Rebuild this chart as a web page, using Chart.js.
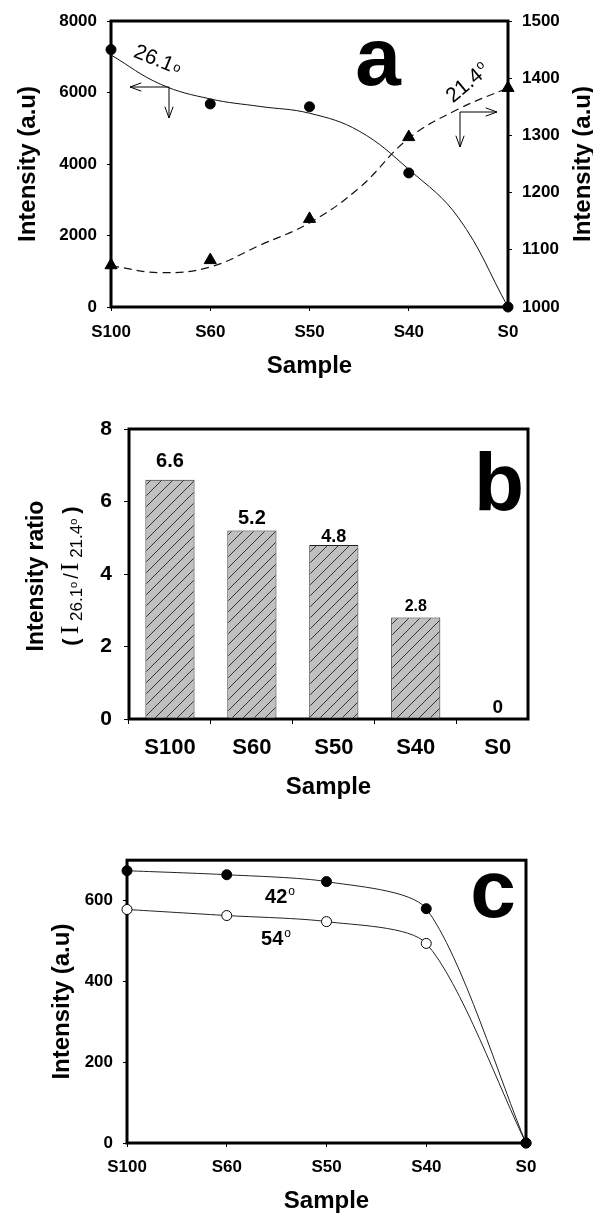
<!DOCTYPE html>
<html>
<head>
<meta charset="utf-8">
<script src="https://cdn.jsdelivr.net/npm/chart.js@4.4.1/dist/chart.umd.min.js"></script>
<style>
  html, body { margin: 0; padding: 0; background: #fff; }
  .panel { position: absolute; left: 0; width: 593px; }
  #wrapA { top: 0; }
  #wrapB { top: 400px; }
  #wrapC { top: 840px; }
</style>
</head>
<body>
<div class="panel" id="wrapA"><canvas id="chartA" width="593" height="390"></canvas></div>
<div class="panel" id="wrapB"><canvas id="chartB" width="593" height="410"></canvas></div>
<div class="panel" id="wrapC"><canvas id="chartC" width="593" height="376"></canvas></div>
<script>
const categories = ['S100', 'S60', 'S50', 'S40', 'S0'];

// (a) peak intensity at 26.1° (left axis) and 21.4° (right axis)
const peak261 = [7200, 5680, 5600, 3750, 0];
const peak214 = [1073, 1082, 1154, 1297, 1383];
// trend curves through those peaks, read every half sample step
const fitSteps = [0, 0.5, 1, 1.5, 2, 2.5, 3, 3.5, 4];
const fit261 = [7050, 6230, 5820, 5610, 5420, 4920, 3850, 2500, 0];
const fit214 = [1072, 1060, 1070, 1108, 1147, 1208, 1295, 1346, 1383];

// (b) intensity ratio I(26.1°) / I(21.4°)
const ratio = [6.6, 5.2, 4.8, 2.8, 0];

// (c) peak intensity at 42° and 54°
const peak42 = [674, 664, 647, 580, 0];
const peak54 = [578, 563, 548, 494, 0];

const FONT = 'Arial, "Liberation Sans", sans-serif';
const SERIF = '"Times New Roman", "Liberation Serif", serif';
Chart.defaults.font.family = FONT;
Chart.defaults.color = '#000';
Chart.defaults.animation = false;
Chart.defaults.plugins.legend.display = false;
Chart.defaults.plugins.tooltip.enabled = false;

// outward tick marks only, no gridlines inside the plot
const tickGrid = { drawOnChartArea: false, drawTicks: true, tickLength: 4, color: '#000', lineWidth: 1 };
const bold = size => ({ size: size, weight: 'bold' });
const plain = v => String(v);

// heavy box round the plot area
const framePlugin = {
    id: 'frame',
    beforeDatasetsDraw(chart) {
        const { ctx, chartArea: a } = chart;
        ctx.save();
        ctx.lineWidth = 3;
        ctx.strokeStyle = '#000';
        ctx.strokeRect(a.left, a.top, a.right - a.left, a.bottom - a.top);
        ctx.restore();
    }
};

function arrow(ctx, x0, y0, x1, y1) {
    const ang = Math.atan2(y1 - y0, x1 - x0);
    const len = 12, spread = 0.35;
    ctx.beginPath();
    ctx.moveTo(x0, y0);
    ctx.lineTo(x1, y1);
    ctx.moveTo(x1 - len * Math.cos(ang - spread), y1 - len * Math.sin(ang - spread));
    ctx.lineTo(x1, y1);
    ctx.lineTo(x1 - len * Math.cos(ang + spread), y1 - len * Math.sin(ang + spread));
    ctx.stroke();
}

// number followed by a small "o" (degree sign), centred on x,y
function degreeLabel(ctx, text, x, y, angle, weight, size, rise) {
    ctx.save();
    ctx.translate(x, y);
    ctx.rotate(angle);
    ctx.textBaseline = 'alphabetic';
    ctx.textAlign = 'left';
    const big = weight + ' ' + size + 'px ' + FONT;
    const small = Math.round(size * 0.62) + 'px ' + FONT;
    ctx.font = big;
    const w = ctx.measureText(text).width;
    ctx.font = small;
    const wo = ctx.measureText('o').width;
    const x0 = -(w + wo + 1) / 2;
    const base = size * 0.35;
    ctx.font = big;
    ctx.fillText(text, x0, base);
    ctx.font = small;
    ctx.fillText('o', x0 + w + 1, base - size * rise);
    ctx.restore();
}

function bigLetter(ctx, ch, x, y) {
    ctx.save();
    ctx.fillStyle = '#000';
    ctx.font = 'bold 82px ' + FONT;
    ctx.textAlign = 'center';
    ctx.textBaseline = 'alphabetic';
    ctx.fillText(ch, x, y);
    ctx.restore();
}

function rotatedTitle(ctx, text, x, y, size) {
    ctx.save();
    ctx.translate(x, y);
    ctx.rotate(-Math.PI / 2);
    ctx.font = 'bold ' + size + 'px ' + FONT;
    ctx.fillStyle = '#000';
    ctx.textAlign = 'center';
    ctx.textBaseline = 'middle';
    ctx.fillText(text, 0, 0);
    ctx.restore();
}

// ---------- panel a ----------
const annotA = {
    id: 'annotA',
    afterDraw(chart) {
        const ctx = chart.ctx;
        ctx.save();
        ctx.fillStyle = '#000';
        ctx.strokeStyle = '#000';
        ctx.lineWidth = 1;
        degreeLabel(ctx, '26.1', 158, 59, 22 * Math.PI / 180, '', 21, 0.12);
        arrow(ctx, 169, 87, 130, 87);
        arrow(ctx, 169, 87, 169, 118);
        degreeLabel(ctx, '21.4', 467, 82, -40 * Math.PI / 180, '', 21, 0.38);
        arrow(ctx, 460, 112, 497, 112);
        arrow(ctx, 460, 112, 460, 147);
        rotatedTitle(ctx, 'Intensity (a.u)', 583, (chart.chartArea.top + chart.chartArea.bottom) / 2, 24);
        ctx.restore();
        bigLetter(ctx, 'a', 378, 85);
    }
};

new Chart(document.getElementById('chartA'), {
    type: 'line',
    data: {
        datasets: [
            {
                data: fitSteps.map((x, i) => ({ x: x, y: fit261[i] })),
                yAxisID: 'y', borderColor: '#111', borderWidth: 1,
                pointRadius: 0, tension: 0.4, clip: false
            },
            {
                data: fitSteps.map((x, i) => ({ x: x, y: fit214[i] })),
                yAxisID: 'y2', borderColor: '#111', borderWidth: 1.2, borderDash: [8, 5],
                pointRadius: 0, tension: 0.4, clip: false
            },
            {
                data: peak261.map((y, i) => ({ x: i, y: y })),
                yAxisID: 'y', showLine: false, pointStyle: 'circle', pointRadius: 5,
                pointBackgroundColor: '#000', pointBorderColor: '#000', clip: false
            },
            {
                data: peak214.map((y, i) => ({ x: i, y: y })),
                yAxisID: 'y2', showLine: false, pointStyle: 'triangle', pointRadius: 7,
                pointBackgroundColor: '#000', pointBorderColor: '#000', clip: false
            }
        ]
    },
    options: {
        responsive: false,
        layout: { padding: { top: 21, left: 0, right: 0, bottom: 0 } },
        scales: {
            x: {
                type: 'linear', min: 0, max: 4,
                afterFit: s => { s.height = 83; },
                grid: tickGrid, border: { display: false },
                ticks: { stepSize: 1, padding: 11, font: bold(17), callback: v => categories[v] },
                title: { display: true, text: 'Sample', font: bold(24), padding: { top: 0, bottom: 9 } }
            },
            y: {
                position: 'left', min: 0, max: 8000,
                afterFit: s => { s.width = 111; },
                grid: tickGrid, border: { display: false },
                ticks: { stepSize: 2000, padding: 10, font: bold(17), callback: plain },
                title: { display: true, text: 'Intensity (a.u)', font: bold(24), padding: { top: 14, bottom: 0 } }
            },
            y2: {
                position: 'right', min: 1000, max: 1500,
                afterFit: s => { s.width = 85; },
                grid: tickGrid, border: { display: false },
                ticks: { stepSize: 100, padding: 10, font: bold(17), callback: plain }
            }
        }
    },
    plugins: [framePlugin, annotA]
});

// ---------- panel b ----------
function hatchPattern() {
    const size = 11;
    const c = document.createElement('canvas');
    c.width = size;
    c.height = size;
    const g = c.getContext('2d');
    g.fillStyle = '#c0c0c0';
    g.fillRect(0, 0, size, size);
    g.strokeStyle = '#333';
    g.lineWidth = 1;
    g.beginPath();
    g.moveTo(0, size); g.lineTo(size, 0);
    g.moveTo(-size, size); g.lineTo(size, -size);
    g.moveTo(0, 2 * size); g.lineTo(2 * size, 0);
    g.stroke();
    return g.createPattern(c, 'repeat');
}

const labelSize = [20, 20, 18, 16, 19];
const labelLift = [13, 7, 3, 7, 6];

const annotB = {
    id: 'annotB',
    afterDatasetsDraw(chart) {
        const ctx = chart.ctx;
        const meta = chart.getDatasetMeta(0);
        ctx.save();
        ctx.fillStyle = '#000';
        ctx.textAlign = 'center';
        ctx.textBaseline = 'alphabetic';
        meta.data.forEach((bar, i) => {
            ctx.font = 'bold ' + labelSize[i] + 'px ' + FONT;
            ctx.fillText(String(ratio[i]), bar.x, bar.y - labelLift[i]);
        });
        ctx.restore();
    },
    afterDraw(chart) {
        const ctx = chart.ctx;
        const cy = (chart.chartArea.top + chart.chartArea.bottom) / 2;
        rotatedTitle(ctx, 'Intensity ratio', 37, cy + 2, 23);

        // second title line: (I 26.1°/I 21.4°) with subscripts
        const runs = [
            { t: '(', font: 'bold 22px ' + FONT, dy: 0, gap: 4 },
            { t: 'I', font: '26px ' + SERIF, dy: 0, gap: 0 },
            { t: ' 26.1', font: '17px ' + FONT, dy: 4, gap: 0 },
            { t: 'o', font: '11px ' + FONT, dy: -1, gap: 3 },
            { t: '/', font: '20px ' + FONT, dy: 0, gap: 2 },
            { t: 'I', font: '26px ' + SERIF, dy: 0, gap: 0 },
            { t: ' 21.4', font: '17px ' + FONT, dy: 4, gap: 0 },
            { t: 'o', font: '11px ' + FONT, dy: -1, gap: 5 },
            { t: ')', font: 'bold 22px ' + FONT, dy: 0, gap: 0 }
        ];
        ctx.save();
        ctx.translate(78, cy + 2);
        ctx.rotate(-Math.PI / 2);
        ctx.fillStyle = '#000';
        ctx.textBaseline = 'alphabetic';
        ctx.textAlign = 'left';
        let total = 0;
        runs.forEach(r => { ctx.font = r.font; r.w = ctx.measureText(r.t).width; total += r.w + r.gap; });
        let x = -total / 2;
        runs.forEach(r => {
            ctx.font = r.font;
            ctx.fillText(r.t, x, r.dy);
            x += r.w + r.gap;
        });
        ctx.restore();
        bigLetter(ctx, 'b', 499, 110);
    }
};

new Chart(document.getElementById('chartB'), {
    type: 'bar',
    data: {
        datasets: [{
            data: ratio.map((y, i) => ({ x: i, y: y })),
            backgroundColor: hatchPattern(),
            borderColor: '#222',
            borderWidth: 1,
            borderSkipped: false,
            barPercentage: 0.6,
            categoryPercentage: 1
        }]
    },
    options: {
        responsive: false,
        layout: { padding: { top: 29, left: 0, right: 65, bottom: 0 } },
        scales: {
            x: {
                type: 'linear', min: -0.5, max: 4.37, offset: false,
                afterFit: s => { s.height = 91; },
                grid: { ...tickGrid, tickLength: 5 }, border: { display: false },
                ticks: { stepSize: 1, includeBounds: false, padding: 11, font: bold(22), callback: v => categories[v] },
                title: { display: true, text: 'Sample', font: bold(24), padding: { top: 0, bottom: 8 } }
            },
            y: {
                min: 0, max: 8,
                afterFit: s => { s.width = 129; },
                grid: { ...tickGrid, tickLength: 5 }, border: { display: false },
                ticks: { stepSize: 2, padding: 12, font: bold(21) }
            }
        }
    },
    plugins: [framePlugin, annotB]
});

// ---------- panel c ----------
const annotC = {
    id: 'annotC',
    afterDraw(chart) {
        const ctx = chart.ctx;
        ctx.save();
        ctx.fillStyle = '#000';
        degreeLabel(ctx, '42', 280, 56, 0, 'bold', 20, 0.38);
        degreeLabel(ctx, '54', 276, 98, 0, 'bold', 20, 0.38);
        ctx.restore();
        bigLetter(ctx, 'c', 493, 77);
    }
};

new Chart(document.getElementById('chartC'), {
    type: 'line',
    data: {
        labels: categories,
        datasets: [
            {
                data: peak42, borderColor: '#222', borderWidth: 1, tension: 0.25,
                pointStyle: 'circle', pointRadius: 5,
                pointBackgroundColor: '#000', pointBorderColor: '#000', clip: false
            },
            {
                data: peak54, borderColor: '#222', borderWidth: 1, tension: 0.25,
                pointStyle: 'circle', pointRadius: 5, pointBorderWidth: 1,
                pointBackgroundColor: '#fff', pointBorderColor: '#000', clip: false
            }
        ]
    },
    options: {
        responsive: false,
        layout: { padding: { top: 18, left: 0, right: 67, bottom: 0 } },
        scales: {
            x: {
                offset: false,
                afterFit: s => { s.height = 73; },
                grid: { ...tickGrid, offset: false }, border: { display: false },
                ticks: { padding: 10, font: bold(17) },
                title: { display: true, text: 'Sample', font: bold(24), padding: { top: 0, bottom: 0 } }
            },
            y: {
                min: 0, max: 700,
                afterFit: s => { s.width = 127; },
                grid: tickGrid, border: { display: false },
                ticks: { stepSize: 200, includeBounds: false, padding: 10, font: bold(17) },
                title: { display: true, text: 'Intensity (a.u)', font: bold(24), padding: { top: 48, bottom: 0 } }
            }
        }
    },
    plugins: [framePlugin, annotC]
});
</script>
</body>
</html>
